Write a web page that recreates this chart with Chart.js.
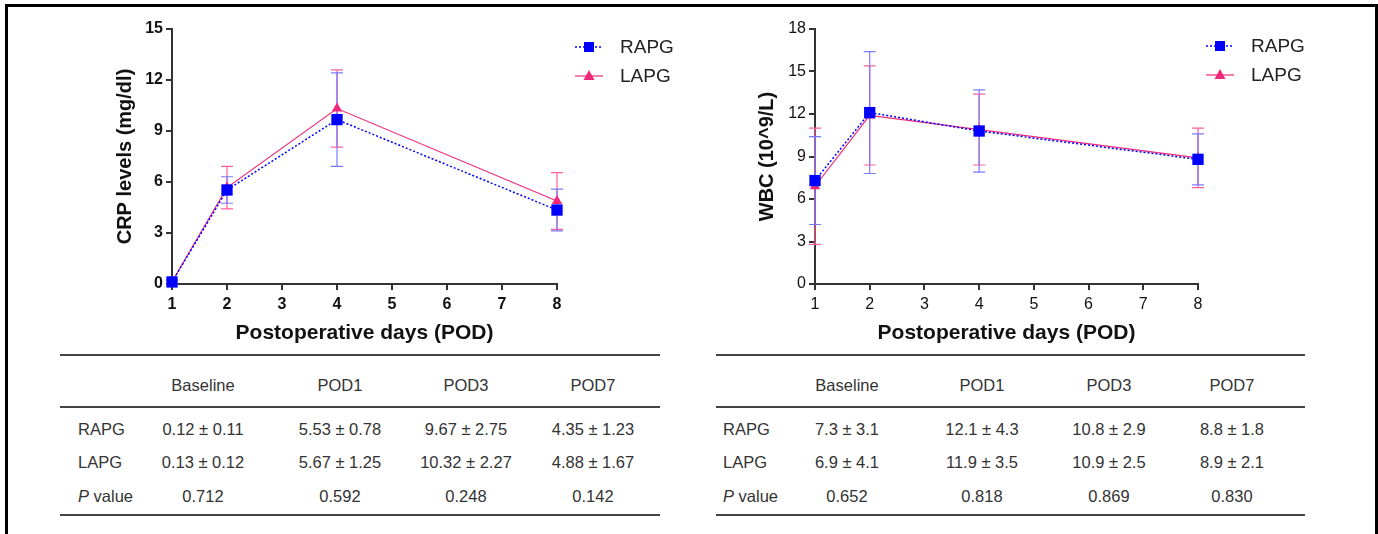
<!DOCTYPE html>
<html>
<head>
<meta charset="utf-8">
<script src="https://cdn.jsdelivr.net/npm/chart.js@4.4.0/dist/chart.umd.min.js"></script>
<style>
  body { margin: 0; width: 1378px; height: 534px; overflow: hidden; background: #fff; font-family: 'Liberation Sans', Arial, sans-serif; }
  #frame { position: absolute; left: 5px; top: 4px; width: 1367px; height: 600px; border: 3px solid #000; border-bottom: none; }
  canvas.chart { position: absolute; top: 10px; }
  .rule { position: absolute; height: 2px; background: #444; }
  .cell { position: absolute; font-size: 16.5px; color: #333; transform: translate(-50%, -50%); white-space: nowrap; }
  .cell.lbl { transform: translate(0, -50%); }
</style>
</head>
<body>
<div id="frame"></div>
<canvas id="crp" class="chart" style="left:109px" width="591" height="340"></canvas>
<canvas id="wbc" class="chart" style="left:751px" width="589" height="340"></canvas>
<div id="tables"></div>

<script>
  // x positions of the time points on the plot
  var days = [1, 2, 4, 8];
  var columns = ['Baseline', 'POD1', 'POD3', 'POD7'];

  // CRP (mg/dl), mean and sd
  var crpRapg = [0.12, 5.53, 9.67, 4.35];
  var crpRapgSd = [0.11, 0.78, 2.75, 1.23];
  var crpLapg = [0.13, 5.67, 10.32, 4.88];
  var crpLapgSd = [0.12, 1.25, 2.27, 1.67];
  var crpP = ['0.712', '0.592', '0.248', '0.142'];

  // WBC (10^9/L), mean and sd
  var wbcRapg = [7.3, 12.1, 10.8, 8.8];
  var wbcRapgSd = [3.1, 4.3, 2.9, 1.8];
  var wbcLapg = [6.9, 11.9, 10.9, 8.9];
  var wbcLapgSd = [4.1, 3.5, 2.5, 2.1];
  var wbcP = ['0.652', '0.818', '0.869', '0.830'];

  var FONT = "'Liberation Sans', Arial, sans-serif";
  var BLUE = '#0000ff', PINK = '#f0287a';

  function points(vals) {
    return vals.map(function(v, i) { return { x: days[i], y: v }; });
  }

  // vertical sd bars with caps, drawn under the lines
  var errorBars = {
    id: 'errorBars',
    beforeDatasetsDraw: function(chart) {
      var ctx = chart.ctx, xs = chart.scales.x, ys = chart.scales.y;
      for (var d = chart.data.datasets.length - 1; d >= 0; d--) {
        var ds = chart.data.datasets[d];
        ctx.save();
        ctx.strokeStyle = ds.errorColor;
        ctx.lineWidth = 1.2;
        ds.data.forEach(function(p, i) {
          var px = xs.getPixelForValue(p.x);
          var top = ys.getPixelForValue(p.y + ds.sd[i]);
          var bot = ys.getPixelForValue(p.y - ds.sd[i]);
          ctx.beginPath();
          ctx.moveTo(px, top); ctx.lineTo(px, bot);
          ctx.moveTo(px - 6, top); ctx.lineTo(px + 6, top);
          ctx.moveTo(px - 6, bot); ctx.lineTo(px + 6, bot);
          ctx.stroke();
        });
        ctx.restore();
      }
    }
  };

  // legend with a short line and the marker in its middle
  var seriesKey = {
    id: 'seriesKey',
    afterDraw: function(chart, args, opts) {
      var ctx = chart.ctx;
      chart.data.datasets.forEach(function(ds, i) {
        var y = opts.y + i * 29;
        var mx = opts.x + 14;
        ctx.save();
        ctx.strokeStyle = ds.borderColor;
        ctx.lineWidth = ds.borderWidth;
        ctx.setLineDash(ds.borderDash || []);
        ctx.beginPath(); ctx.moveTo(opts.x, y); ctx.lineTo(opts.x + 28, y); ctx.stroke();
        ctx.setLineDash([]);
        ctx.fillStyle = ds.pointBackgroundColor;
        ctx.beginPath();
        if (ds.pointStyle === 'rect') {
          ctx.rect(mx - 5, y - 5, 10, 10);
        } else {
          ctx.moveTo(mx, y - 6); ctx.lineTo(mx + 5.5, y + 4); ctx.lineTo(mx - 5.5, y + 4); ctx.closePath();
        }
        ctx.fill();
        ctx.fillStyle = '#222';
        ctx.font = '19px ' + FONT;
        ctx.textBaseline = 'middle';
        ctx.fillText(ds.label, opts.x + 45, y + 1);
        ctx.restore();
      });
    }
  };

  function makeChart(id, r, rSd, l, lSd, yMax, yTitle, tickWeight, yWidth, padRight, key) {
    var tickFont = { family: FONT, size: 16, weight: tickWeight };
    return new Chart(document.getElementById(id), {
      type: 'line',
      data: {
        datasets: [{
          label: 'RAPG', data: points(r), sd: rSd, errorColor: '#7a7aff',
          borderColor: BLUE, borderWidth: 1.5, borderDash: [2, 2],
          pointStyle: 'rect', pointRadius: 8, pointHoverRadius: 8,
          pointBackgroundColor: BLUE, pointBorderColor: BLUE, pointBorderWidth: 0
        }, {
          label: 'LAPG', data: points(l), sd: lSd, errorColor: '#ff5f9c',
          borderColor: PINK, borderWidth: 1.2,
          pointStyle: 'triangle', pointRadius: 6, pointHoverRadius: 6,
          pointBackgroundColor: PINK, pointBorderColor: PINK, pointBorderWidth: 0
        }]
      },
      options: {
        responsive: false,
        animation: false,
        clip: false,
        layout: { padding: { top: 19, right: padRight, left: 0, bottom: 0 } },
        plugins: {
          legend: { display: false },
          tooltip: { enabled: false },
          seriesKey: key
        },
        scales: {
          x: {
            type: 'linear', min: 1, max: 8,
            afterFit: function(s) { s.height = 66; },
            ticks: { stepSize: 1, color: '#111', font: tickFont, padding: 5 },
            grid: { drawOnChartArea: false, drawTicks: true, tickLength: 6, color: '#333', lineWidth: 2 },
            border: { color: '#333', width: 2 },
            title: { display: true, text: 'Postoperative days (POD)', color: '#111',
              font: { family: FONT, size: 21, weight: 'bold' }, padding: { top: 4, bottom: 4 } }
          },
          y: {
            min: 0, max: yMax,
            afterFit: function(s) { s.width = yWidth; },
            ticks: { stepSize: 3, color: '#111', font: tickFont, padding: 3 },
            grid: { drawOnChartArea: false, drawTicks: true, tickLength: 6, color: '#333', lineWidth: 2 },
            border: { color: '#333', width: 2 },
            title: { display: true, text: yTitle, color: '#111',
              font: { family: FONT, size: 20, weight: 'bold' }, padding: { top: 4, bottom: 4 } }
          }
        }
      },
      plugins: [errorBars, seriesKey]
    });
  }

  makeChart('crp', crpRapg, crpRapgSd, crpLapg, crpLapgSd, 15, 'CRP levels (mg/dl)', 'bold', 63, 143, { x: 466, y: 37 });
  makeChart('wbc', wbcRapg, wbcRapgSd, wbcLapg, wbcLapgSd, 18, 'WBC (10^9/L)', 'normal', 64, 142, { x: 455, y: 36 });

  // summary tables under the charts
  var tables = document.getElementById('tables');
  function add(cls, x, y, html) {
    var d = document.createElement('div');
    d.className = cls;
    d.style.left = x + 'px';
    d.style.top = y + 'px';
    d.innerHTML = html;
    tables.appendChild(d);
    return d;
  }
  function pm(m, s, dp) { return m.toFixed(dp) + ' \u00b1 ' + s.toFixed(dp); }

  function buildTable(left, width, labelX, centers, r, rSd, l, lSd, p, dp) {
    [354, 406, 514].forEach(function(t) {
      add('rule', left, t, '').style.width = width + 'px';
    });
    var rowY = [429, 462, 496];
    columns.forEach(function(c, i) { add('cell', centers[i], 385, c); });
    add('cell lbl', labelX, rowY[0], 'RAPG');
    add('cell lbl', labelX, rowY[1], 'LAPG');
    add('cell lbl', labelX, rowY[2], '<i>P</i> value');
    centers.forEach(function(cx, i) {
      add('cell', cx, rowY[0], pm(r[i], rSd[i], dp));
      add('cell', cx, rowY[1], pm(l[i], lSd[i], dp));
      add('cell', cx, rowY[2], p[i]);
    });
  }

  buildTable(60, 600, 78, [203, 340, 466, 593], crpRapg, crpRapgSd, crpLapg, crpLapgSd, crpP, 2);
  buildTable(716, 589, 723, [847, 982, 1109, 1232], wbcRapg, wbcRapgSd, wbcLapg, wbcLapgSd, wbcP, 1);
</script>
</body>
</html>
